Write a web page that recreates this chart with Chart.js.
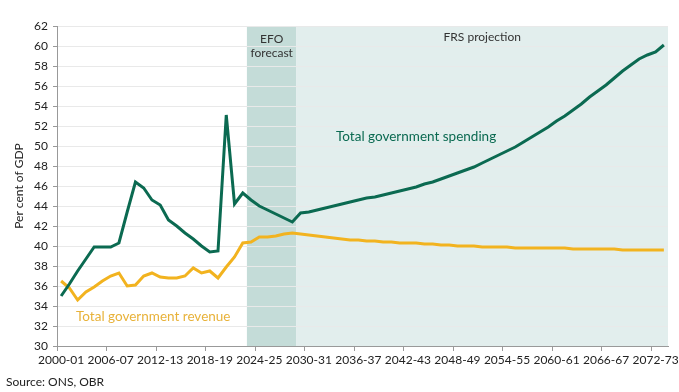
<!DOCTYPE html>
<html>
<head>
<meta charset="utf-8">
<script src="https://cdn.jsdelivr.net/npm/chart.js@4.4.1/dist/chart.umd.min.js"></script>
<style>
  html, body { margin: 0; padding: 0; background: #fff; }
  #wrap { width: 679px; height: 392px; }
</style>
</head>
<body>
<div id="wrap"><canvas id="chart" width="679" height="392"></canvas></div>
<script>
// Financial years on the x axis
var years = [
  '2000-01','2001-02','2002-03','2003-04','2004-05','2005-06','2006-07','2007-08','2008-09','2009-10',
  '2010-11','2011-12','2012-13','2013-14','2014-15','2015-16','2016-17','2017-18','2018-19','2019-20',
  '2020-21','2021-22','2022-23','2023-24','2024-25','2025-26','2026-27','2027-28','2028-29','2029-30',
  '2030-31','2031-32','2032-33','2033-34','2034-35','2035-36','2036-37','2037-38','2038-39','2039-40',
  '2040-41','2041-42','2042-43','2043-44','2044-45','2045-46','2046-47','2047-48','2048-49','2049-50',
  '2050-51','2051-52','2052-53','2053-54','2054-55','2055-56','2056-57','2057-58','2058-59','2059-60',
  '2060-61','2061-62','2062-63','2063-64','2064-65','2065-66','2066-67','2067-68','2068-69','2069-70',
  '2070-71','2071-72','2072-73','2073-74'
];

// Per cent of GDP
var spending = [
  35.0, 36.2, 37.5, 38.7, 39.9, 39.9, 39.9, 40.3, 43.4, 46.4,
  45.8, 44.6, 44.1, 42.6, 42.0, 41.3, 40.7, 40.0, 39.4, 39.5,
  53.1, 44.2, 45.3, 44.6, 44.0, 43.6, 43.2, 42.8, 42.4, 43.3,
  43.4, 43.6, 43.8, 44.0, 44.2, 44.4, 44.6, 44.8, 44.9, 45.1,
  45.3, 45.5, 45.7, 45.9, 46.2, 46.4, 46.7, 47.0, 47.3, 47.6,
  47.9, 48.3, 48.7, 49.1, 49.5, 49.9, 50.4, 50.9, 51.4, 51.9,
  52.5, 53.0, 53.6, 54.2, 54.9, 55.5, 56.1, 56.8, 57.5, 58.1,
  58.7, 59.1, 59.4, 60.1
];

var revenue = [
  36.5, 35.8, 34.6, 35.4, 35.9, 36.5, 37.0, 37.3, 36.0, 36.1,
  37.0, 37.3, 36.9, 36.8, 36.8, 37.0, 37.8, 37.3, 37.5, 36.8,
  37.9, 38.9, 40.3, 40.4, 40.9, 40.9, 41.0, 41.2, 41.3, 41.2,
  41.1, 41.0, 40.9, 40.8, 40.7, 40.6, 40.6, 40.5, 40.5, 40.4,
  40.4, 40.3, 40.3, 40.3, 40.2, 40.2, 40.1, 40.1, 40.0, 40.0,
  40.0, 39.9, 39.9, 39.9, 39.9, 39.8, 39.8, 39.8, 39.8, 39.8,
  39.8, 39.8, 39.7, 39.7, 39.7, 39.7, 39.7, 39.7, 39.6, 39.6,
  39.6, 39.6, 39.6, 39.6
];

// Shaded periods: first and last year of each
var efoPeriod = ['2023-24', '2028-29'];
var frsPeriod = ['2029-30', '2073-74'];

var FONT = 'Lato, "Noto Sans", sans-serif';
var green = '#0b6a51';
var yellow = '#f2b31f';

// backgrounds for forecast / projection periods, plus the text labels
var bandsPlugin = {
  id: 'bands',
  beforeDraw: function (chart) {
    var ctx = chart.ctx, x = chart.scales.x, area = chart.chartArea;
    var half = (x.getPixelForValue(1) - x.getPixelForValue(0)) / 2;
    function band(p, color) {
      var a = x.getPixelForValue(years.indexOf(p[0])) - half;
      var b = x.getPixelForValue(years.indexOf(p[1])) + half;
      ctx.save();
      ctx.fillStyle = color;
      ctx.fillRect(a, area.top, b - a, area.bottom - area.top);
      ctx.restore();
    }
    band(efoPeriod, '#c4dcd8');
    band(frsPeriod, '#e2eeed');
  },
  afterDraw: function (chart) {
    var ctx = chart.ctx, x = chart.scales.x;
    var half = (x.getPixelForValue(1) - x.getPixelForValue(0)) / 2;
    var efoMid = (x.getPixelForValue(years.indexOf(efoPeriod[0])) + x.getPixelForValue(years.indexOf(efoPeriod[1]))) / 2;
    var frsMid = (x.getPixelForValue(years.indexOf(frsPeriod[0])) - half + chart.chartArea.right) / 2;
    ctx.save();
    ctx.textBaseline = 'middle';
    ctx.textAlign = 'center';
    ctx.fillStyle = '#333';
    ctx.font = '12px ' + FONT;
    ctx.fillText('EFO', efoMid, 39);
    ctx.fillText('forecast', efoMid, 53);
    ctx.fillText('FRS projection', frsMid, 37);
    ctx.textAlign = 'left';
    ctx.font = '13.5px ' + FONT;
    ctx.fillStyle = green;
    ctx.fillText('Total government spending', 336, 137);
    ctx.fillStyle = '#e8b23a';
    ctx.fillText('Total government revenue', 76, 317);
    ctx.fillStyle = '#222';
    ctx.font = '12px ' + FONT;
    ctx.fillText('Source: ONS, OBR', 6, 382);
    ctx.restore();
  }
};

var config = {
  type: 'line',
  data: {
    labels: years,
    datasets: [{
      label: 'Total government spending',
      data: spending,
      borderColor: green,
      borderWidth: 3,
      pointRadius: 0,
      tension: 0
    }, {
      label: 'Total government revenue',
      data: revenue,
      borderColor: yellow,
      borderWidth: 3,
      pointRadius: 0,
      tension: 0
    }]
  },
  options: {
    responsive: false,
    animation: false,
    layout: { padding: { top: 26, right: 11, left: 0, bottom: 0 } },
    plugins: {
      legend: { display: false },
      tooltip: { enabled: false }
    },
    scales: {
      x: {
        type: 'category',
        offset: true,
        grid: {
          offset: true,
          drawOnChartArea: false,
          tickLength: 5,
          color: function (c) { return c.index % 6 === 0 ? '#999' : 'rgba(0,0,0,0)'; }
        },
        border: { color: '#999' },
        ticks: {
          autoSkip: false,
          maxRotation: 0,
          padding: 2,
          color: '#222',
          font: { family: FONT, size: 12 },
          callback: function (v, i) { return i % 6 === 0 ? years[i] : ''; }
        },
        afterFit: function (s) { s.height = 46; }
      },
      y: {
        min: 30,
        max: 62,
        grid: { color: '#e9e9e9', tickColor: '#999', tickLength: 4 },
        border: { color: '#999' },
        ticks: {
          stepSize: 2,
          padding: 5,
          color: '#222',
          font: { family: FONT, size: 12 }
        },
        title: {
          display: true,
          text: 'Per cent of GDP',
          color: '#222',
          font: { family: FONT, size: 12 },
          padding: { top: 12, bottom: 0 }
        },
        afterFit: function (s) { s.width = 57; }
      }
    }
  },
  plugins: [bandsPlugin]
};

window.myChart = new Chart(document.getElementById('chart'), config);
</script>
</body>
</html>
